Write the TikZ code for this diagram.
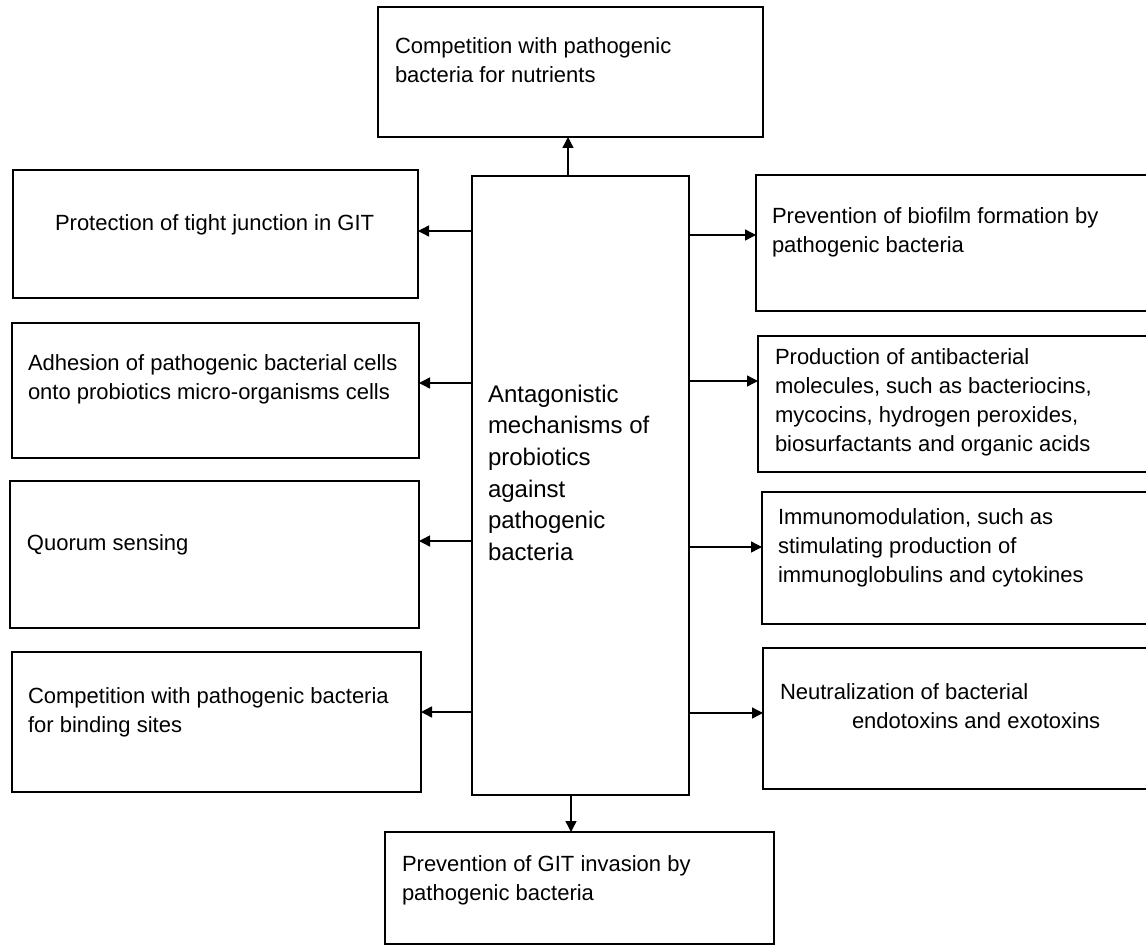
\documentclass[tikz,border=0pt]{standalone}
\usepackage{fontspec}
\setmainfont{Liberation Sans}
\usetikzlibrary{arrows.meta}
\tikzset{
  box/.style={draw=black, line width=2.9pt, rectangle, inner sep=0pt, outer sep=0pt, fill=white},
  lbl/.style={anchor=north west, inner sep=0pt, outer sep=0pt, align=left, text=black,
    font=\fontsize{22}{29}\selectfont},
  clbl/.style={anchor=north west, inner sep=0pt, outer sep=0pt, align=left, text=black,
    font=\fontsize{24}{31.6}\selectfont},
  arr/.style={draw=black, line width=1.4pt, -{Triangle[length=11pt,width=11pt]}}
}
\begin{document}
\begin{tikzpicture}[x=1pt,y=-1pt]
\useasboundingbox (0,0) rectangle (1146,947);
\clip (0,0) rectangle (1146,947);
\fill[white] (0,0) rectangle (1146,947);
% boxes
\node[box, minimum width=385pt, minimum height=130pt] (T) at (570.5,72) {};
\node[box, minimum width=217pt, minimum height=619pt] (C) at (580.5,485.5) {};
\node[box, minimum width=389pt, minimum height=112pt] (B) at (579.5,888) {};
\node[box, minimum width=405pt, minimum height=128pt] (L1) at (215.5,234) {};
\node[box, minimum width=407pt, minimum height=135pt] (L2) at (215.5,390.5) {};
\node[box, minimum width=409pt, minimum height=147pt] (L3) at (214.5,554.5) {};
\node[box, minimum width=409pt, minimum height=140pt] (L4) at (216.5,722) {};
\node[box, minimum width=404pt, minimum height=136pt] (R1) at (958,243) {};
\node[box, minimum width=402pt, minimum height=136pt] (R2) at (959,404) {};
\node[box, minimum width=398pt, minimum height=132pt] (R3) at (961,558) {};
\node[box, minimum width=397pt, minimum height=141pt] (R4) at (961.5,718.5) {};
% labels
\node[lbl] (tT) at (395,38) {Competition with pathogenic\\bacteria for nutrients};
\node[clbl] (tC) at (488,385) {Antagonistic\\mechanisms of\\probiotics\\against\\pathogenic\\bacteria};
\node[lbl] (tB) at (402,856) {Prevention of GIT invasion by\\pathogenic bacteria};
\node[lbl] (tL1) at (55,215) {Protection of tight junction in GIT};
\node[lbl] (tL2) at (28,355) {Adhesion of pathogenic bacterial cells\\onto probiotics micro-organisms cells};
\node[lbl] (tL3) at (27,535) {Quorum sensing};
\node[lbl] (tL4) at (28,688) {Competition with pathogenic bacteria\\for binding sites};
\node[lbl] (tR1) at (772,208) {Prevention of biofilm formation by\\pathogenic bacteria};
\node[lbl] (tR2) at (775,349) {Production of antibacterial\\molecules, such as bacteriocins,\\mycocins, hydrogen peroxides,\\biosurfactants and organic acids};
\node[lbl] (tR3) at (778,509) {Immunomodulation, such as\\stimulating production of\\immunoglobulins and cytokines};
\node[lbl] (tR4) at (780,684) {Neutralization of bacterial\\\hspace*{72pt}endotoxins and exotoxins};
% connectors
\draw[arr] (C.north -| 568,0) -- (T.south -| 568,0);
\draw[arr] (C.south -| 571,0) -- (B.north -| 571,0);
\draw[arr] (C.west |- 0,231) -- (L1.east |- 0,231);
\draw[arr] (C.west |- 0,383) -- (L2.east |- 0,383);
\draw[arr] (C.west |- 0,541) -- (L3.east |- 0,541);
\draw[arr] (C.west |- 0,712) -- (L4.east |- 0,712);
\draw[arr] (C.east |- 0,235) -- (R1.west |- 0,235);
\draw[arr] (C.east |- 0,381) -- (R2.west |- 0,381);
\draw[arr] (C.east |- 0,547) -- (R3.west |- 0,547);
\draw[arr] (C.east |- 0,713) -- (R4.west |- 0,713);
\end{tikzpicture}
\end{document}
